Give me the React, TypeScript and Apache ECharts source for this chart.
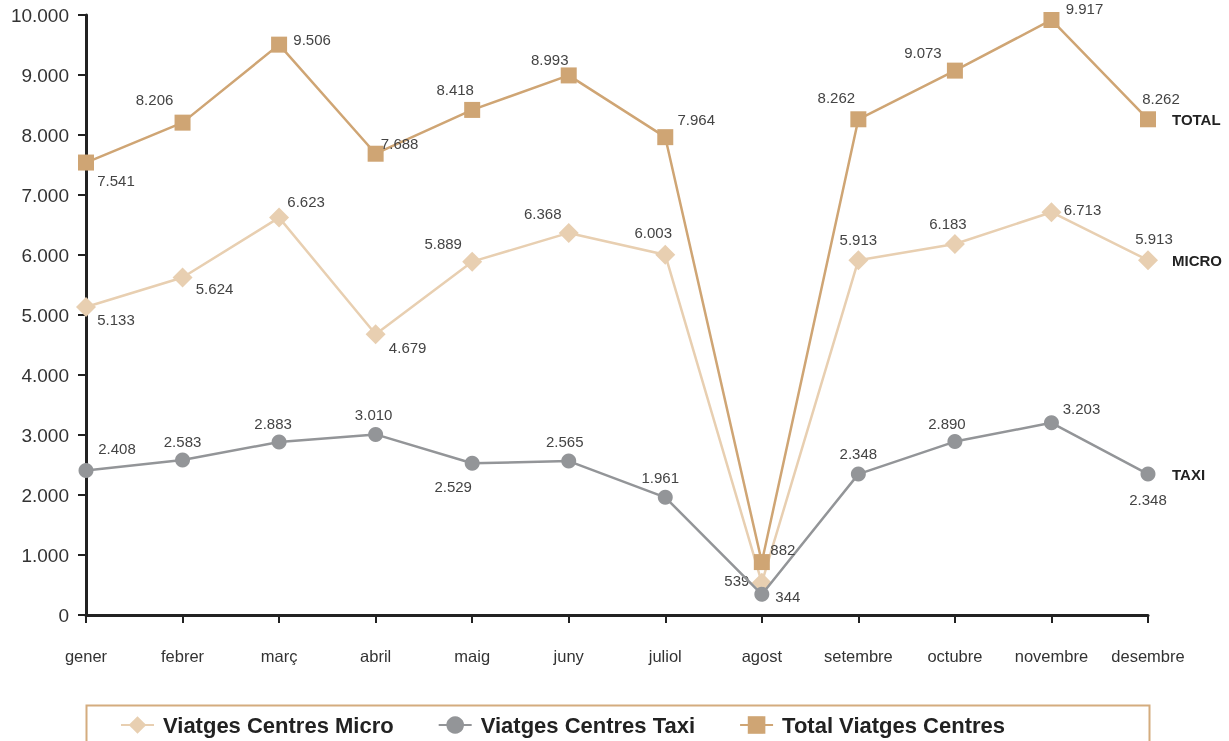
import React, { useEffect, useRef } from "react";
import * as echarts from "echarts";

const months = ["gener", "febrer", "març", "abril", "maig", "juny", "juliol", "agost", "setembre", "octubre", "novembre", "desembre"];
const micro = [5133, 5624, 6623, 4679, 5889, 6368, 6003, 539, 5913, 6183, 6713, 5913];
const taxi = [2408, 2583, 2883, 3010, 2529, 2565, 1961, 344, 2348, 2890, 3203, 2348];
const total = [7541, 8206, 9506, 7688, 8418, 8993, 7964, 882, 8262, 9073, 9917, 8262];
const seriesNames = ["Viatges Centres Micro", "Viatges Centres Taxi", "Total Viatges Centres"];
const endNames = ["MICRO", "TAXI", "TOTAL"];

// label placement offsets (px) relative to each point
const microOffsets = [[30, 12], [32, 11], [27, -16], [32, 13], [-29, -18], [-26, -19], [-12, -22], [-25, -2], [0, -21], [-7, -21], [31, -3], [6, -22]];
const taxiOffsets = [[31, -22], [0, -19], [-6, -19], [-2, -20], [-19, 23], [-4, -20], [-5, -20], [26, 2], [0, -21], [-8, -18], [30, -14], [0, 25]];
const totalOffsets = [[30, 18], [-28, -23], [33, -5], [24, -10], [-17, -20], [-19, -16], [31, -18], [21, -13], [-22, -22], [-32, -18], [33, -11], [13, -21]];

const fmt = (v: number) => String(v).replace(/\B(?=(\d{3})+(?!\d))/g, ".");

export default function App() {
  const ref = useRef<HTMLDivElement>(null);
  useEffect(() => {
    if (!ref.current) return;
    const chart = echarts.init(ref.current, null, { renderer: "svg" });
    const font = "Liberation Sans, Arial, sans-serif";
    const mk = (name: string, endName: string, values: number[], offsets: number[][], color: string, symbol: string, size: number, z: number) => ({
      name,
      type: "line",
      data: values.map((v, i) => ({ value: v, label: { offset: offsets[i] } })),
      symbol,
      symbolSize: size,
      z,
      lineStyle: { color, width: 2.5 },
      itemStyle: { color },
      label: {
        show: true,
        position: "inside",
        formatter: (p: any) => fmt(p.value),
        fontSize: 15,
        color: "#444",
        fontFamily: font,
      },
      endLabel: {
        show: true,
        formatter: endName,
        distance: 24,
        fontSize: 15,
        fontWeight: "bold",
        color: "#222",
        fontFamily: font,
      },
    });
    chart.setOption({
      animation: false,
      textStyle: { fontFamily: font },
      grid: { left: 86, right: 81, top: 15, bottom: 126, containLabel: false },
      xAxis: {
        type: "category",
        data: months,
        boundaryGap: false,
        axisLine: { lineStyle: { color: "#222", width: 3 } },
        axisTick: { show: true, length: 8, lineStyle: { color: "#222", width: 2 } },
        axisLabel: { fontSize: 16.5, color: "#333", margin: 32, interval: 0 },
      },
      yAxis: {
        type: "value",
        min: 0,
        max: 10000,
        interval: 1000,
        axisLine: { show: true, lineStyle: { color: "#222", width: 3 } },
        axisTick: { show: true, length: 8, lineStyle: { color: "#222", width: 2 } },
        splitLine: { show: false },
        axisLabel: { fontSize: 19, color: "#333", margin: 17, formatter: (v: number) => fmt(v) },
      },
      legend: {
        data: seriesNames,
        left: 115,
        top: 709,
        itemWidth: 33,
        itemHeight: 22,
        itemGap: 44,
        textStyle: { fontSize: 22, fontWeight: "bold", color: "#222", fontFamily: font, padding: [0, 0, 0, 4] },
      },
      graphic: [
        {
          type: "rect",
          left: 84,
          top: 703,
          shape: { width: 1063, height: 60 },
          style: { fill: "none", stroke: "#D4AC7E", lineWidth: 2 },
          silent: true,
        },
      ],
      series: [
        mk(seriesNames[0], endNames[0], micro, microOffsets, "#E8CFB1", "diamond", 20, 2),
        mk(seriesNames[1], endNames[1], taxi, taxiOffsets, "#939598", "circle", 15, 3),
        mk(seriesNames[2], endNames[2], total, totalOffsets, "#CFA574", "rect", 16, 4),
      ],
    });
    return () => chart.dispose();
  }, []);
  return <div ref={ref} style={{ position: "fixed", left: 0, top: 0, width: 1229, height: 741 }} />;
}
